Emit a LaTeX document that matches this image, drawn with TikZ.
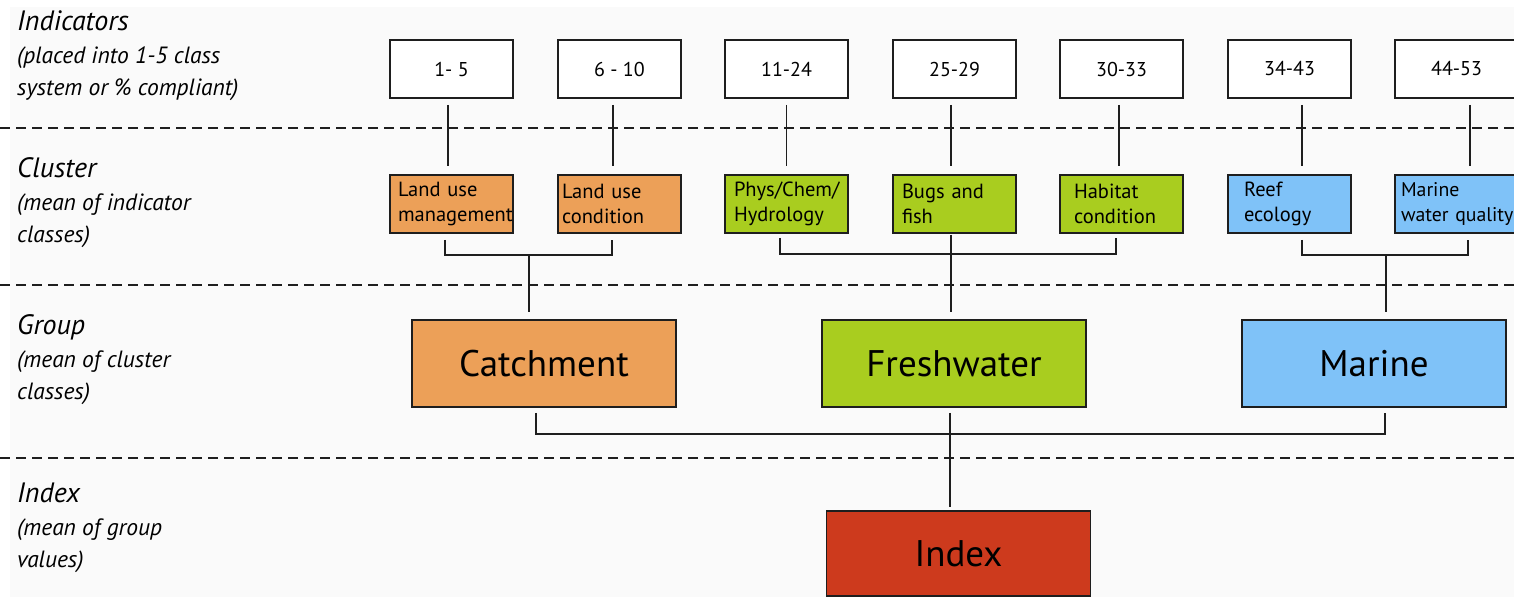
\documentclass[tikz,border=0pt]{standalone}
\usepackage{fontspec}
\setmainfont{PT Sans}
\definecolor{catch}{RGB}{236,160,88}
\definecolor{fresh}{RGB}{169,205,31}
\definecolor{marine}{RGB}{127,194,248}
\definecolor{indexred}{RGB}{205,58,29}
\definecolor{ink}{RGB}{30,30,30}
\definecolor{paper}{RGB}{250,250,250}
\begin{document}
\begin{tikzpicture}[x=1pt,y=-1pt,
  tierhead/.style={anchor=base west, inner sep=0pt, font=\fontsize{28}{32}\selectfont\itshape},
  tiersub/.style={anchor=base west, inner sep=0pt, font=\fontsize{23.5}{28}\selectfont\itshape},
  divider/.style={draw=ink, line width=1.6pt, dash pattern=on 10pt off 6pt},
  indbox/.style={draw=ink, line width=1.6pt, fill=white, minimum width=123pt, minimum height=58pt,
    inner sep=0pt, font=\fontsize{20}{22}\selectfont},
  clbox/.style={draw=ink, line width=1.8pt, fill=#1, minimum width=123pt, minimum height=58pt,
    inner ysep=0pt, align=left, font=\fontsize{20.5}{25}\selectfont,
    execute at begin node={\hyphenpenalty=10000\relax\exhyphenpenalty=10000\relax}},
  grpbox/.style={draw=ink, line width=1.6pt, fill=#1, minimum width=264pt, minimum height=87pt,
    inner sep=0pt, font=\fontsize{37}{44}\selectfont},
  link/.style={draw=ink, line width=1.6pt}
]
\useasboundingbox (0,0) rectangle (1514,597);
\clip (0,0) rectangle (1514,597);
\fill[white] (0,0) rectangle (1514,597);
\fill[paper] (10,7) rectangle (1514,597);

% tier dividers
\draw[divider] (0,128) -- (1514,128);
\draw[divider] (0,285) -- (1514,285);
\draw[divider] (0,458) -- (1514,458);

% tier captions
\node[tierhead] (hInd) at (17,30) {Indicators};
\node[tiersub] (sInd1) at (17,63) {(placed into 1-5 class};
\node[tiersub] (sInd2) at (17,95) {system or \% compliant)};
\node[tierhead] (hCl) at (17,177) {Cluster};
\node[tiersub] (sCl1) at (17,210) {(mean of indicator};
\node[tiersub] (sCl2) at (17,242) {classes)};
\node[tierhead] (hGr) at (17,334) {Group};
\node[tiersub] (sGr1) at (17,367) {(mean of cluster};
\node[tiersub] (sGr2) at (17,399) {classes)};
\node[tierhead] (hIx) at (17,502) {Index};
\node[tiersub] (sIx1) at (17,535) {(mean of group};
\node[tiersub] (sIx2) at (17,567) {values)};

% indicators
\node[indbox] (i1) at (451.5,69) {1- 5};
\node[indbox] (i2) at (619.5,69) {6 - 10};
\node[indbox] (i3) at (786.5,69) {11-24};
\node[indbox] (i4) at (954.5,69) {25-29};
\node[indbox] (i5) at (1121.5,69) {30-33};
\node[indbox] (i6) at (1289.5,69) {34-43};
\node[indbox] (i7) at (1456.5,69) {44-53};

% clusters
\node[clbox=catch, inner xsep=8pt, text width=107pt] (c1) at (451.5,204) {Land use\\management};
\node[clbox=catch, inner xsep=4pt, text width=115pt] (c2) at (619.5,204) {Land use\\condition};
\node[clbox=fresh, inner xsep=9pt, text width=105pt] (c3) at (786.5,204) {Phys/Chem/\\Hydrology};
\node[clbox=fresh, inner xsep=9pt, text width=105pt] (c4) at (954.5,204) {Bugs and\\fish};
\node[clbox=fresh, inner xsep=14pt, text width=95pt] (c5) at (1121.5,204) {Habitat\\condition};
\node[clbox=marine, inner xsep=16pt, text width=91pt] (c6) at (1289.5,204) {Reef\\ecology};
\node[clbox=marine, inner xsep=6pt, text width=111pt, font=\fontsize{19.8}{25}\selectfont] (c7) at (1456.5,204) {Marine\\water~quality};

% groups and index
\node[grpbox=catch] (gC) at (544,363.5) {Catchment};
\node[grpbox=fresh] (gF) at (954,363.5) {Freshwater};
\node[grpbox=marine] (gM) at (1374,363.5) {Marine};
\node[grpbox=indexred, minimum height=85pt] (iX) at (958.5,553.5) {Index};

% indicator -> cluster
\foreach \k/\dx in {1/-3.5,2/-6.5,3/0,4/-3.5,5/-2.5,6/12.5,7/13.5}
  \draw[link, shorten <=6pt, shorten >=8pt] ([xshift=\dx pt]i\k.south) -- ([xshift=\dx pt]c\k.north);

% cluster -> group
\coordinate (hubC) at (529,254);
\coordinate (hubM) at (1386,254);
\draw[link] ([xshift=-6.5pt,yshift=-6pt]c1.south) -- ++(0,15) -| ([xshift=-7.5pt,yshift=-6pt]c2.south);
\draw[link, shorten >=7pt] (hubC) -- (hubC |- gC.north);
\draw[link] ([xshift=-6.5pt,yshift=-4pt]c3.south) -- ++(0,16) -| ([xshift=-5.5pt,yshift=-4pt]c5.south);
\draw[link, shorten <=1pt, shorten >=7pt] ([xshift=-3.5pt]c4.south) -- ([xshift=-3.5pt]c4.south |- gF.north);
\draw[link] ([xshift=12.5pt,yshift=-6pt]c6.south) -- ++(0,15) -| ([xshift=11.5pt,yshift=-6pt]c7.south);
\draw[link, shorten >=7pt] (hubM) -- (hubM |- gM.north);

% group -> index
\coordinate (hubI) at (950,433);
\draw[link] ([xshift=-8pt,yshift=-5pt]gC.south) -- ++(0,21) -| ([xshift=11pt,yshift=-5pt]gM.south);
\draw[link, shorten <=5pt, shorten >=3pt] (hubI |- gF.south) -- (hubI |- iX.north);
\end{tikzpicture}
\end{document}
